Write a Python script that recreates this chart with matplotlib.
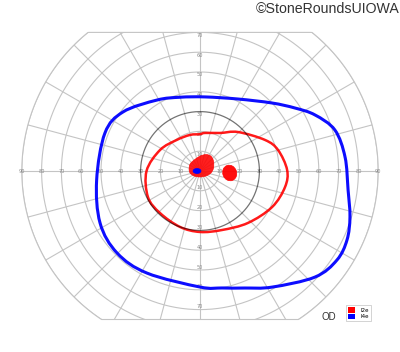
import numpy as np
import matplotlib
matplotlib.use("Agg")
import matplotlib.pyplot as plt
from matplotlib.patches import Ellipse, Patch, PathPatch
from matplotlib.path import Path

# ---------------- data (degrees of visual field) ----------------
# I4e isopter (blue): meridian angle (deg, 0 = right, CCW) and eccentricity (deg)
i4e_angle = [5.5, 16.9, 26, 33.5, 43.4, 62.2, 86, 105.2, 121.2, 142.5, 158.2, 185,
             207.5, 224.7, 242.5, 270, 280.6, 291, 301.8, 317.3, 327, 334.9, 343, 352.7]
i4e_ecc = [73.6, 71.2, 64.6, 57.6, 50, 41.1, 37.5, 38.6, 41.9, 49, 51.7, 52.4,
           56.9, 58.9, 58.1, 58.6, 60.1, 63.3, 69, 79, 82.5, 82, 79.2, 75.4]

# I2e isopter (red)
i2e_angle = [0.7, 15.1, 25.5, 45.7, 62.2, 82.5, 90, 105.5, 126.9, 152.3, 180,
             206.6, 226.4, 250.3, 270, 290.4, 312.7, 333.4, 349.3]
i2e_ecc = [44, 40.8, 36.4, 27.5, 21.7, 19.4, 18.6, 18.9, 19.6, 22.8, 27,
           29.4, 29.3, 30, 30.8, 31.8, 35.7, 40.7, 43.7]

# central I2e scotoma outline (x, y in degrees)
scot_x = [-5.5, -5, -3, 0, 3, 5.5, 6.8, 6.8, 5.5, 3, 0, -3, -5]
scot_y = [1, 3.5, 5.5, 7.5, 8.3, 7.5, 5, 1.5, -1, -2.5, -3, -2.5, -1]
# blind spot (I2e) ellipse: centre x, y, width, height
blind_spot = (15, -1, 7, 8)
# central I4e scotoma ellipse
i4e_scot = (-1.5, 0, 4, 2.5)

rings = [10, 20, 30, 40, 50, 60, 70, 80, 90]
h_labels = [10, 20, 30, 40, 50, 60, 70, 80, 90]
v_labels = [10, 20, 30, 40, 50, 60, 70]
meridians = list(range(0, 360, 15))
legend_labels = ["I2e", "I4e"]
y_top, y_bottom = 70, -75

# ---------------- figure ----------------
fig = plt.figure(figsize=(4.0, 3.52), dpi=100)
ax = fig.add_axes([0, 0, 1, 1])
ax.set_xlim(-101.01, 101.01)
ax.set_ylim(-91.41, 86.36)
ax.set_aspect("equal")
ax.axis("off")

# clip shape: outer circle cut by horizontal limits
t = np.linspace(0, 2 * np.pi, 721)
bx = 90 * np.cos(t)
by = np.clip(90 * np.sin(t), y_bottom, y_top)
clip_path = Path(np.column_stack([bx, by]), closed=True)
clip_patch = PathPatch(clip_path, facecolor="none", edgecolor="#c4c4c4", lw=0.8, zorder=1)
ax.add_patch(clip_patch)

grid_col = "#c4c4c4"
for r in rings:
    if r == 30:
        continue
    ln, = ax.plot(r * np.cos(t), r * np.sin(t), color=grid_col, lw=0.8, zorder=1)
    ln.set_clip_path(clip_patch)
for m in meridians:
    a = np.deg2rad(m)
    ln, = ax.plot([0, 95 * np.cos(a)], [0, 95 * np.sin(a)], color=grid_col, lw=0.8, zorder=1)
    ln.set_clip_path(clip_patch)

# 30 degree ring darker, drawn on top with transparency
ax.plot(30 * np.cos(t), 30 * np.sin(t), color=(0, 0, 0, 0.55), lw=0.9, zorder=5)

# axis labels
lab_kw = dict(fontsize=3.6, color="#8a8a8a", ha="center", va="center", zorder=2)
for v in h_labels:
    for s in (-1, 1):
        ax.text(s * v, 0, str(v), **lab_kw)
for v in v_labels:
    ax.text(0, v - 1.5, str(v), **lab_kw)
    ax.text(0, -v + 1.5, str(v), **lab_kw)


def smooth_closed_path(xs, ys):
    """Closed path through every point, drawn as cubic Bezier segments (Catmull-Rom tangents)."""
    P = np.column_stack([xs, ys])
    n = len(P)
    verts = [P[0]]
    codes = [Path.MOVETO]
    for i in range(n):
        p0, p1, p2, p3 = P[i - 1], P[i], P[(i + 1) % n], P[(i + 2) % n]
        c1 = p1 + (p2 - p0) / 6.0
        c2 = p2 - (p3 - p1) / 6.0
        verts += [c1, c2, p2]
        codes += [Path.CURVE4] * 3
    return Path(verts, codes)


def polar_xy(ang, ecc):
    a = np.deg2rad(np.asarray(ang))
    e = np.asarray(ecc)
    return e * np.cos(a), e * np.sin(a)


x4, y4 = polar_xy(i4e_angle, i4e_ecc)
ax.add_patch(PathPatch(smooth_closed_path(x4, y4), facecolor="none", edgecolor="#0000ff",
                       lw=2.2, alpha=0.95, zorder=4))
x2, y2 = polar_xy(i2e_angle, i2e_ecc)
ax.add_patch(PathPatch(smooth_closed_path(x2, y2), facecolor="none", edgecolor="#ff0000",
                       lw=1.8, alpha=0.9, zorder=4))

# scotomas
ax.add_patch(PathPatch(smooth_closed_path(np.array(scot_x, float), np.array(scot_y, float)),
                       facecolor="#ff0000", edgecolor="#ff0000", lw=0.5, alpha=0.88, zorder=3))
ax.add_patch(Ellipse(blind_spot[:2], blind_spot[2], blind_spot[3], angle=20,
                     facecolor="#ff0000", edgecolor="#ff0000", lw=0.5, alpha=0.95, zorder=3))
ax.add_patch(Ellipse(i4e_scot[:2], i4e_scot[2], i4e_scot[3], facecolor="#0000ff",
                     edgecolor="#0000ff", lw=0.5, zorder=4))

# texts
fig.text(399 / 400, 1 - 9 / 352, "\u00a9StoneRoundsUIOWA", fontsize=10.2, color="#333333",
         ha="right", va="center", family="Liberation Sans")
fig.text(321 / 400, 1 - 317 / 352, "OD", fontsize=7, color="#333333", ha="left", va="center",
         family="Liberation Sans")

handles = [Patch(facecolor="#ff0000", edgecolor="none"), Patch(facecolor="#0000ff", edgecolor="none")]
leg = fig.legend(handles, legend_labels, loc="upper left", bbox_to_anchor=(346 / 400, 1 - 305 / 352),
                 fontsize=4, handlelength=1.2, handleheight=1.2, handletextpad=1.0, borderpad=0.35,
                 labelspacing=0.15, frameon=True, fancybox=False, framealpha=1, borderaxespad=0)
leg.get_frame().set_edgecolor("#cccccc")
leg.get_frame().set_linewidth(0.6)

fig.savefig("out.png", dpi=100)
